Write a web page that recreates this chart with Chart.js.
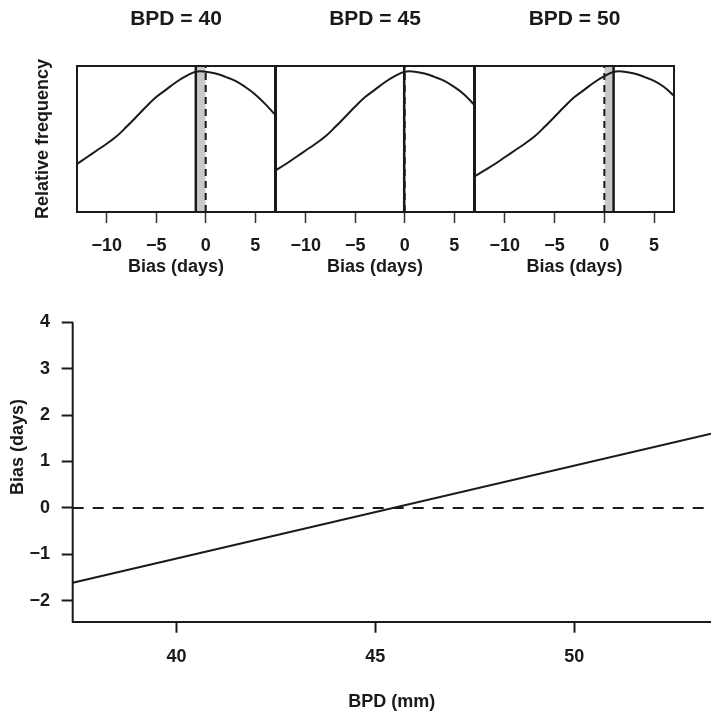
<!DOCTYPE html>
<html>
<head>
<meta charset="utf-8">
<title>Bias by BPD</title>
<script src="https://cdn.jsdelivr.net/npm/chart.js@4.4.1/dist/chart.umd.min.js"></script>
<style>
  body { margin: 0; background: #fff; }
  #wrap { position: relative; width: 711px; height: 713px; overflow: hidden; }
  #wrap canvas { position: absolute; left: 0; }
</style>
</head>
<body>
<div id="wrap">
  <canvas id="panel0" width="711" height="290" style="top:0"></canvas>
  <canvas id="panel1" width="711" height="290" style="top:0"></canvas>
  <canvas id="panel2" width="711" height="290" style="top:0"></canvas>
  <canvas id="bias-chart" width="711" height="463" style="top:250px"></canvas>
</div>
<script>
// Top row: distribution of bias at three BPD values
const biasGrid = [-13, -12, -11, -10, -9, -8, -7, -6, -5, -4, -3, -2, -1, 0, 1, 2, 3, 4, 5, 6, 7];
const freqBpd40 = [0.315, 0.365, 0.415, 0.465, 0.52, 0.59, 0.665, 0.74, 0.81, 0.865, 0.92, 0.965, 0.998, 0.998, 0.985, 0.96, 0.93, 0.885, 0.83, 0.76, 0.68];
const freqBpd45 = [0.27, 0.315, 0.365, 0.415, 0.465, 0.52, 0.59, 0.665, 0.74, 0.81, 0.865, 0.92, 0.965, 0.998, 0.998, 0.985, 0.96, 0.93, 0.885, 0.83, 0.755];
const freqBpd50 = [0.225, 0.27, 0.315, 0.365, 0.415, 0.465, 0.52, 0.59, 0.665, 0.74, 0.81, 0.865, 0.92, 0.965, 0.998, 0.998, 0.985, 0.96, 0.93, 0.885, 0.82];
const panelBpd = [40, 45, 50];
const panelBias = [-1.0, -0.05, 0.93];
const biasTicks = [-10, -5, 0, 5];

// Bottom: bias against BPD
const lineBpd = [37.39, 53.44];
const lineBias = [-1.61, 1.60];
const bpdTicks = [40, 45, 50];
const biasDayTicks = [-2, -1, 0, 1, 2, 3, 4];

const panelFreq = [freqBpd40, freqBpd45, freqBpd50];

const INK = '#1a1a1a';
Chart.defaults.font.family = '"Liberation Sans", Arial, Helvetica, sans-serif';
Chart.defaults.font.weight = 'bold';
Chart.defaults.font.size = 18;
Chart.defaults.color = INK;

const minus = v => String(v).replace('-', '\u2212');
const fixTicks = list => scale => { scale.ticks = list.map(v => ({ value: v })); };

// frame round each small panel
const boxPlugin = {
  id: 'box',
  afterDatasetsDraw(chart) {
    const a = chart.chartArea, ctx = chart.ctx;
    ctx.save();
    ctx.strokeStyle = INK;
    ctx.lineWidth = 2;
    ctx.strokeRect(a.left, a.top, a.right - a.left, a.bottom - a.top);
    ctx.restore();
  }
};

// left axis line, from top tick down to the x axis
const axisLinePlugin = {
  id: 'axisLine',
  afterDatasetsDraw(chart) {
    const a = chart.chartArea, ctx = chart.ctx;
    const yTop = chart.scales.y.getPixelForValue(biasDayTicks[biasDayTicks.length - 1]);
    ctx.save();
    ctx.strokeStyle = INK;
    ctx.lineWidth = 2;
    ctx.beginPath();
    ctx.moveTo(a.left, yTop);
    ctx.lineTo(a.left, a.bottom + 1);
    ctx.stroke();
    ctx.restore();
  }
};

const panelLeft = [77, 276, 475];
const panelRight = [275, 474, 674];
const yAxisWidth = 77;
const freqMin = -0.04, freqMax = 1.04;

panelBpd.forEach((bpd, i) => {
  const b = panelBias[i];
  new Chart(document.getElementById('panel' + i), {
    type: 'line',
    data: {
      datasets: [
        {
          data: biasGrid.map((x, k) => ({ x: x, y: panelFreq[i][k] })),
          borderColor: INK, borderWidth: 2, pointRadius: 0,
          tension: 0.4, order: 1
        },
        {
          data: [{ x: b, y: freqMin }, { x: b, y: freqMax }],
          borderColor: INK, borderWidth: 2.5, pointRadius: 0, order: 0
        },
        {
          data: [{ x: 0, y: freqMin }, { x: 0, y: freqMax }],
          borderColor: INK, borderWidth: 2, borderDash: [7, 5], pointRadius: 0, order: 0
        },
        {
          data: [{ x: b, y: freqMax }, { x: 0, y: freqMax }],
          borderColor: 'rgba(0,0,0,0)', borderWidth: 0, pointRadius: 0,
          fill: 'start', backgroundColor: '#c8c8c8', order: 5
        }
      ]
    },
    options: {
      responsive: false,
      animation: false,
      layout: { padding: { left: panelLeft[i] - yAxisWidth, right: 711 - panelRight[i], top: 0, bottom: 0 } },
      plugins: {
        legend: { display: false },
        tooltip: { enabled: false },
        title: {
          display: true, text: 'BPD = ' + bpd, fullSize: false,
          font: { size: 21, weight: 'bold' }, color: INK,
          padding: { top: 6.4, bottom: 34.4 }
        }
      },
      scales: {
        x: {
          type: 'linear', min: -13, max: 7,
          afterBuildTicks: fixTicks(biasTicks),
          afterFit: s => { s.height = 78; },
          grid: { display: true, drawOnChartArea: false, tickLength: 11, tickColor: '#333', tickWidth: 1.5 },
          border: { display: false },
          ticks: { padding: 12.4, callback: minus, maxRotation: 0, autoSkip: false },
          title: { display: true, text: 'Bias (days)', padding: { top: 0, bottom: 12.2 } }
        },
        y: {
          type: 'linear', min: freqMin, max: freqMax,
          display: i === 0,
          afterFit: s => { s.width = yAxisWidth; },
          grid: { display: false },
          border: { display: false },
          ticks: { display: false },
          title: { display: true, text: 'Relative frequency', padding: { top: 32.7, bottom: 0 } }
        }
      }
    },
    plugins: [boxPlugin]
  });
});

const bpdMin = 37.39, bpdMax = 53.44;

new Chart(document.getElementById('bias-chart'), {
  type: 'line',
  data: {
    datasets: [
      {
        data: lineBpd.map((x, k) => ({ x: x, y: lineBias[k] })),
        borderColor: INK, borderWidth: 2, pointRadius: 0
      },
      {
        data: [{ x: bpdMin, y: 0 }, { x: bpdMax, y: 0 }],
        borderColor: INK, borderWidth: 2, borderDash: [11, 9], pointRadius: 0
      }
    ]
  },
  options: {
    responsive: false,
    animation: false,
    layout: { padding: { top: 8.3, left: 0, right: 0, bottom: 0 } },
    plugins: { legend: { display: false }, tooltip: { enabled: false } },
    scales: {
      x: {
        type: 'linear', min: bpdMin, max: bpdMax,
        afterBuildTicks: fixTicks(bpdTicks),
        afterFit: s => { s.height = 91.3; },
        grid: { display: true, drawOnChartArea: false, tickLength: 11, tickColor: INK, tickWidth: 2 },
        border: { display: true, color: INK, width: 2 },
        ticks: { padding: 13.5, maxRotation: 0, autoSkip: false },
        title: { display: true, text: 'BPD (mm)', padding: { top: 0, bottom: 0.5 } }
      },
      y: {
        type: 'linear', min: -2.449, max: 5.07,
        afterBuildTicks: fixTicks(biasDayTicks),
        afterFit: s => { s.width = 72.7; },
        grid: { display: true, drawOnChartArea: false, tickLength: 11, tickColor: INK, tickWidth: 2 },
        border: { display: false },
        ticks: { padding: 11.7, callback: minus, autoSkip: false },
        title: { display: true, text: 'Bias (days)', padding: { top: 7.2, bottom: 0 } }
      }
    }
  },
  plugins: [axisLinePlugin]
});
</script>
</body>
</html>
